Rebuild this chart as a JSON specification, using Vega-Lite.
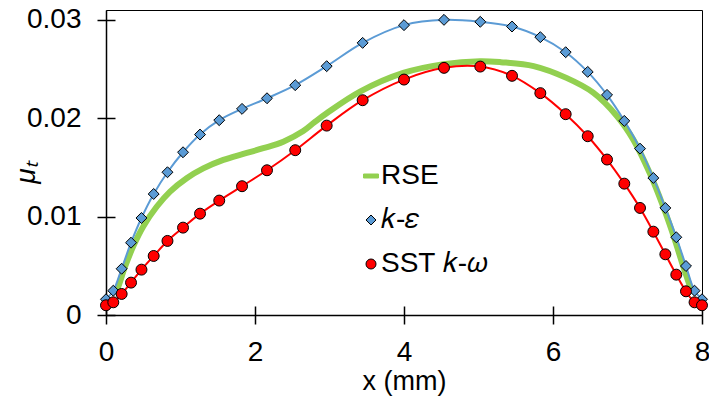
{
  "$schema": "https://vega.github.io/schema/vega-lite/v6.json",
  "width": 596,
  "height": 305,
  "autosize": {"type": "none"},
  "padding": {"left": 106, "top": 10, "right": 7, "bottom": 85},
  "background": "white",
  "config": {
    "view": {"stroke": "black", "strokeWidth": 1},
    "font": "Liberation Sans",
    "axis": {
      "grid": false,
      "domainColor": "black",
      "domainWidth": 1.5,
      "tickColor": "black",
      "tickWidth": 1.5,
      "labelColor": "black",
      "titleColor": "black",
      "labelFont": "Liberation Sans",
      "titleFont": "Liberation Sans",
      "labelFontSize": 28,
      "titleFontSize": 27,
      "titleFontWeight": "normal",
      "labelFlush": false
    },
    "legend": {
      "labelFont": "Liberation Sans",
      "labelFontSize": 28,
      "labelColor": "black",
      "rowPadding": 16,
      "labelOffset": -4,
      "symbolStrokeWidth": 1
    }
  },
  "datasets": {
    "rse": [
      {"x": 0.13, "y": 0.0023}, {"x": 0.165, "y": 0.0029}, {"x": 0.255, "y": 0.0049},
      {"x": 0.367, "y": 0.007}, {"x": 0.5, "y": 0.009}, {"x": 0.68, "y": 0.011},
      {"x": 0.86, "y": 0.01254}, {"x": 1.083, "y": 0.0139}, {"x": 1.306, "y": 0.0149},
      {"x": 1.575, "y": 0.01576}, {"x": 1.843, "y": 0.01637}, {"x": 2.11, "y": 0.01695},
      {"x": 2.38, "y": 0.01762}, {"x": 2.648, "y": 0.0187}, {"x": 2.8, "y": 0.0196},
      {"x": 2.962, "y": 0.0205}, {"x": 3.41, "y": 0.0227}, {"x": 3.99, "y": 0.0246},
      {"x": 4.53, "y": 0.0255}, {"x": 5.02, "y": 0.0258}, {"x": 5.3, "y": 0.0257},
      {"x": 5.74, "y": 0.0253}, {"x": 6.18, "y": 0.0241}, {"x": 6.54, "y": 0.0226},
      {"x": 6.86, "y": 0.0202}, {"x": 7.08, "y": 0.0178}, {"x": 7.3, "y": 0.0144},
      {"x": 7.48, "y": 0.011}, {"x": 7.62, "y": 0.008}, {"x": 7.75, "y": 0.0049},
      {"x": 7.87, "y": 0.0022}
    ],
    "models": [
      {"series": "k-ε", "x": 0, "y": 0.0016}, {"series": "k-ε", "x": 0.098, "y": 0.00247},
      {"series": "k-ε", "x": 0.21, "y": 0.0047}, {"series": "k-ε", "x": 0.336, "y": 0.00735},
      {"series": "k-ε", "x": 0.476, "y": 0.00986}, {"series": "k-ε", "x": 0.64, "y": 0.0123},
      {"series": "k-ε", "x": 0.825, "y": 0.01451}, {"series": "k-ε", "x": 1.034, "y": 0.01654},
      {"series": "k-ε", "x": 1.262, "y": 0.01834}, {"series": "k-ε", "x": 1.52, "y": 0.0198},
      {"series": "k-ε", "x": 1.826, "y": 0.02095}, {"series": "k-ε", "x": 2.161, "y": 0.02203},
      {"series": "k-ε", "x": 2.54, "y": 0.02336}, {"series": "k-ε", "x": 2.962, "y": 0.02529},
      {"series": "k-ε", "x": 3.445, "y": 0.02766}, {"series": "k-ε", "x": 4.0, "y": 0.02946},
      {"series": "k-ε", "x": 4.537, "y": 0.03}, {"series": "k-ε", "x": 5.024, "y": 0.0298},
      {"series": "k-ε", "x": 5.45, "y": 0.02932}, {"series": "k-ε", "x": 5.83, "y": 0.02824},
      {"series": "k-ε", "x": 6.17, "y": 0.02671}, {"series": "k-ε", "x": 6.466, "y": 0.02471},
      {"series": "k-ε", "x": 6.725, "y": 0.02237}, {"series": "k-ε", "x": 6.957, "y": 0.01973},
      {"series": "k-ε", "x": 7.168, "y": 0.01691}, {"series": "k-ε", "x": 7.347, "y": 0.01393},
      {"series": "k-ε", "x": 7.508, "y": 0.01088}, {"series": "k-ε", "x": 7.655, "y": 0.0079},
      {"series": "k-ε", "x": 7.785, "y": 0.00498}, {"series": "k-ε", "x": 7.9, "y": 0.00247},
      {"series": "k-ε", "x": 8.0, "y": 0.0016},
      {"series": "SST k-ω", "x": 0, "y": 0.00099}, {"series": "SST k-ω", "x": 0.098, "y": 0.00129},
      {"series": "SST k-ω", "x": 0.21, "y": 0.00214}, {"series": "SST k-ω", "x": 0.336, "y": 0.00329},
      {"series": "SST k-ω", "x": 0.476, "y": 0.00461}, {"series": "SST k-ω", "x": 0.64, "y": 0.006},
      {"series": "SST k-ω", "x": 0.825, "y": 0.00753}, {"series": "SST k-ω", "x": 1.034, "y": 0.00888},
      {"series": "SST k-ω", "x": 1.262, "y": 0.0103}, {"series": "SST k-ω", "x": 1.52, "y": 0.01163},
      {"series": "SST k-ω", "x": 1.826, "y": 0.01309}, {"series": "SST k-ω", "x": 2.161, "y": 0.01471},
      {"series": "SST k-ω", "x": 2.54, "y": 0.01675}, {"series": "SST k-ω", "x": 2.962, "y": 0.01925},
      {"series": "SST k-ω", "x": 3.445, "y": 0.02183}, {"series": "SST k-ω", "x": 4.0, "y": 0.02393},
      {"series": "SST k-ω", "x": 4.537, "y": 0.02512}, {"series": "SST k-ω", "x": 5.024, "y": 0.02525},
      {"series": "SST k-ω", "x": 5.45, "y": 0.02431}, {"series": "SST k-ω", "x": 5.83, "y": 0.02255},
      {"series": "SST k-ω", "x": 6.17, "y": 0.02041}, {"series": "SST k-ω", "x": 6.466, "y": 0.01817},
      {"series": "SST k-ω", "x": 6.725, "y": 0.0158}, {"series": "SST k-ω", "x": 6.957, "y": 0.01335},
      {"series": "SST k-ω", "x": 7.168, "y": 0.01088}, {"series": "SST k-ω", "x": 7.347, "y": 0.00847},
      {"series": "SST k-ω", "x": 7.508, "y": 0.00617}, {"series": "SST k-ω", "x": 7.655, "y": 0.0041},
      {"series": "SST k-ω", "x": 7.785, "y": 0.00241}, {"series": "SST k-ω", "x": 7.9, "y": 0.00129},
      {"series": "SST k-ω", "x": 8.0, "y": 0.00099}
    ]
  },
  "layer": [
    {
      "data": {"name": "rse"},
      "mark": {"type": "line", "strokeWidth": 6, "interpolate": "catmull-rom", "color": "#92D050"},
      "encoding": {
        "x": {
          "field": "x", "type": "quantitative",
          "scale": {"domain": [0, 8], "nice": false, "zero": false},
          "axis": {"orient": "bottom", "values": [0, 2, 4, 6, 8], "format": "d", "tickSize": 9, "labelPadding": 14, "title": "x (mm)", "titlePadding": 2}
        },
        "y": {
          "field": "y", "type": "quantitative",
          "scale": {"domain": [0, 0.031], "nice": false},
          "axis": {"orient": "left", "values": [0, 0.01, 0.02, 0.03], "format": ".2~f", "tickSize": 9, "labelPadding": 16,
                   "title": "μₜ", "titleFontStyle": "italic", "titleFontSize": 28, "titleAngle": -90,
                   "titleX": -80, "titleY": 162, "titleAlign": "center", "titleBaseline": "middle"}
        }
      }
    },
    {
      "data": {"name": "models"},
      "transform": [{"filter": "datum.series === 'k-ε'"}],
      "mark": {"type": "line", "strokeWidth": 2, "interpolate": "catmull-rom", "color": "#5B9BD5"},
      "encoding": {
        "x": {"field": "x", "type": "quantitative",
              "axis": {"orient": "bottom", "offset": -9, "values": [0, 2, 4, 6, 8], "tickSize": 9, "labels": false, "domain": false, "title": null}},
        "y": {"field": "y", "type": "quantitative",
              "axis": {"orient": "left", "offset": -9, "values": [0, 0.01, 0.02, 0.03], "tickSize": 9, "labels": false, "domain": false, "title": null}}
      }
    },
    {
      "data": {"name": "models"},
      "transform": [{"filter": "datum.series === 'SST k-ω'"}],
      "mark": {"type": "line", "strokeWidth": 2, "interpolate": "catmull-rom", "color": "#FF0000"},
      "encoding": {
        "x": {"field": "x", "type": "quantitative", "axis": null},
        "y": {"field": "y", "type": "quantitative", "axis": null}
      }
    },
    {
      "data": {"name": "models"},
      "mark": {"type": "point", "filled": true, "strokeWidth": 1, "opacity": 1, "size": 120},
      "encoding": {
        "x": {"field": "x", "type": "quantitative", "axis": null},
        "y": {"field": "y", "type": "quantitative", "axis": null},
        "color": {"field": "series", "type": "nominal",
                  "scale": {"domain": ["RSE", "k-ε", "SST k-ω"], "range": ["#92D050", "#5B9BD5", "#FF0000"]},
                  "legend": {"orient": "none", "legendX": 251, "legendY": 152, "title": null,
                             "labelExpr": "datum.label === 'SST k-ω' ? 'SST 𝑘-𝜔' : datum.label === 'k-ε' ? ' 𝑘-𝜀' : datum.label"}},
        "stroke": {"field": "series", "type": "nominal",
                  "scale": {"domain": ["RSE", "k-ε", "SST k-ω"], "range": ["#92D050", "black", "black"]},
                  "legend": {"orient": "none", "legendX": 251, "legendY": 152, "title": null,
                             "labelExpr": "datum.label === 'SST k-ω' ? 'SST 𝑘-𝜔' : datum.label === 'k-ε' ? ' 𝑘-𝜀' : datum.label"}},
        "shape": {"field": "series", "type": "nominal",
                  "scale": {"domain": ["RSE", "k-ε", "SST k-ω"], "range": ["M-1.5,-0.4H1.5V0.4H-1.5Z", "diamond", "circle"]},
                  "legend": {"orient": "none", "legendX": 251, "legendY": 152, "title": null,
                             "labelExpr": "datum.label === 'SST k-ω' ? 'SST 𝑘-𝜔' : datum.label === 'k-ε' ? ' 𝑘-𝜀' : datum.label"}}
      }
    }
  ],
  "resolve": {"axis": {"x": "independent", "y": "independent"}}
}
